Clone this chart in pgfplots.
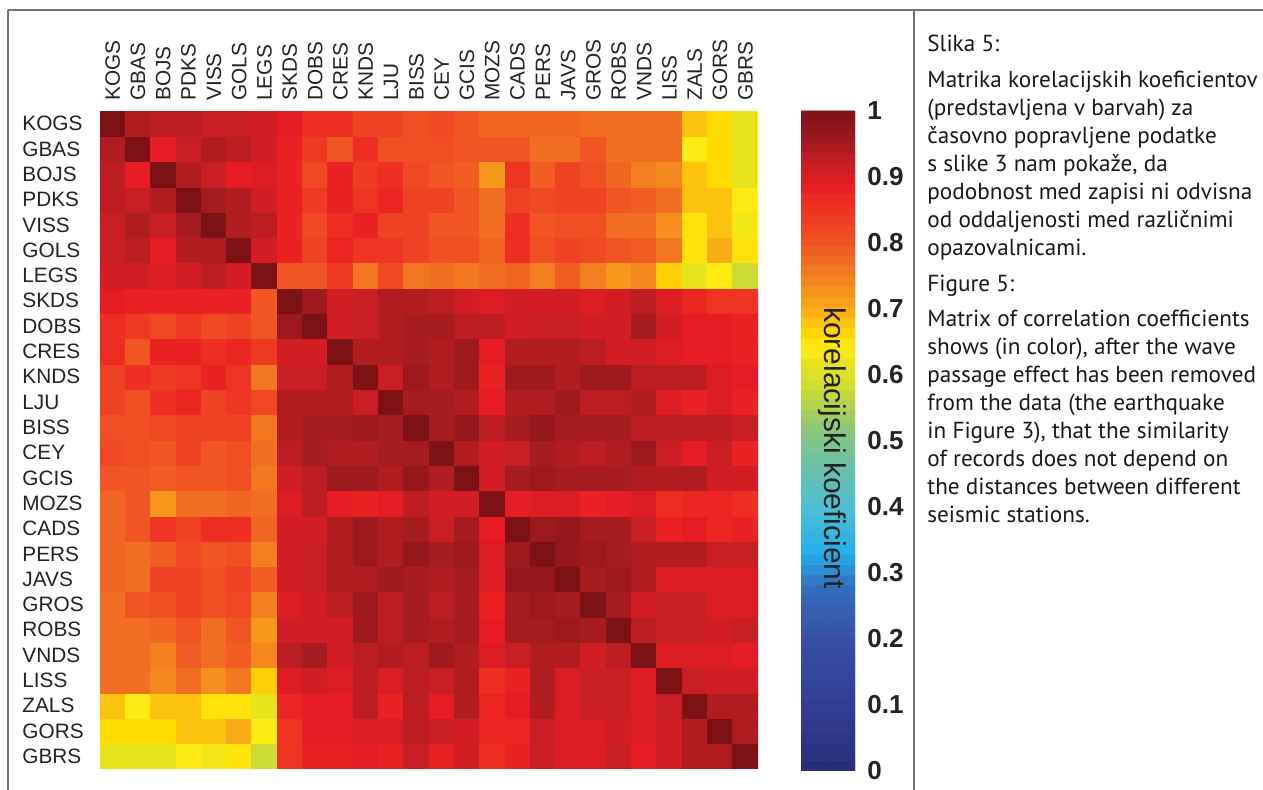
\documentclass[border=0pt]{standalone}
\usepackage{fontspec}
\usepackage{pgfplots}
\pgfplotsset{compat=1.18}
\setmainfont{Liberation Sans}
\newfontfamily\capfont{PT Sans}
\definecolor{framegray}{RGB}{115,115,115}
\definecolor{labgray}{RGB}{35,35,35}
\definecolor{captext}{RGB}{25,25,25}
\pgfplotsset{colormap={refjet}{
 rgb255(0pt)=(40,45,120) rgb255(10pt)=(50,62,148) rgb255(20pt)=(55,80,165)
 rgb255(28pt)=(52,110,190) rgb255(33pt)=(35,175,235) rgb255(40pt)=(80,190,210)
 rgb255(46pt)=(105,192,170) rgb255(52pt)=(140,200,120) rgb255(58pt)=(205,220,50)
 rgb255(62pt)=(232,228,28) rgb255(64pt)=(255,235,20) rgb255(66pt)=(255,220,0)
 rgb255(68pt)=(252,195,15) rgb255(71pt)=(248,160,28) rgb255(74pt)=(245,135,31)
 rgb255(77pt)=(242,110,34) rgb255(80pt)=(240,85,35) rgb255(83pt)=(239,65,35)
 rgb255(86pt)=(238,45,35) rgb255(89pt)=(232,28,36) rgb255(92pt)=(200,30,36)
 rgb255(95pt)=(165,27,32) rgb255(100pt)=(125,18,22)}}
\newcommand{\labfont}{\fontsize{10.4}{12}\selectfont}
\newcommand{\cfont}{\capfont\fontsize{11.6}{14}\selectfont}
\begin{document}
\begin{tikzpicture}
\useasboundingbox (0,0) rectangle (631.5pt,395pt);
\begin{axis}[
  at={(50pt,10.5pt)}, anchor=south west,
  scale only axis, width=329pt, height=329pt,
  xmin=-0.5, xmax=25.5, ymin=-0.5, ymax=25.5,
  axis line style={draw=none},
  major tick length=0pt,
  xtick={0,...,25}, ytick={0,...,25},
  xticklabels={KOGS,GBAS,BOJS,PDKS,VISS,GOLS,LEGS,SKDS,DOBS,CRES,KNDS,LJU,BISS,CEY,GCIS,MOZS,CADS,PERS,JAVS,GROS,ROBS,VNDS,LISS,ZALS,GORS,GBRS},
  yticklabels={GBRS,GORS,ZALS,LISS,VNDS,ROBS,GROS,JAVS,PERS,CADS,MOZS,GCIS,CEY,BISS,LJU,KNDS,CRES,DOBS,SKDS,LEGS,GOLS,VISS,PDKS,BOJS,GBAS,KOGS},
  xticklabel pos=upper,
  xticklabel style={rotate=90, anchor=west, inner sep=0pt, font=\labfont, text=labgray},
  yticklabel style={anchor=west, inner sep=0pt, font=\labfont, text=labgray},
  xticklabel shift=5pt,
  yticklabel shift=39pt,
  colormap name=refjet,
  point meta min=0, point meta max=1,
]
\addplot[matrix plot*, mesh/cols=26, point meta=explicit] coordinates {
(0,0)[0.62] (1,0)[0.62] (2,0)[0.62] (3,0)[0.64] (4,0)[0.63] (5,0)[0.65] (6,0)[0.58] (7,0)[0.85] (8,0)[0.88] (9,0)[0.88] (10,0)[0.89] (11,0)[0.88] (12,0)[0.92] (13,0)[0.88] (14,0)[0.91] (15,0)[0.86] (16,0)[0.88] (17,0)[0.92] (18,0)[0.90] (19,0)[0.90] (20,0)[0.92] (21,0)[0.89] (22,0)[0.91] (23,0)[0.94] (24,0)[0.94] (25,0)[1.00]
(0,1)[0.66] (1,1)[0.66] (2,1)[0.66] (3,1)[0.68] (4,1)[0.68] (5,1)[0.70] (6,1)[0.64] (7,1)[0.85] (8,1)[0.89] (9,1)[0.89] (10,1)[0.90] (11,1)[0.90] (12,1)[0.93] (13,1)[0.92] (14,1)[0.91] (15,1)[0.87] (16,1)[0.87] (17,1)[0.92] (18,1)[0.90] (19,1)[0.90] (20,1)[0.91] (21,1)[0.90] (22,1)[0.91] (23,1)[0.94] (24,1)[1.00] (25,1)[0.94]
(0,2)[0.68] (1,2)[0.64] (2,2)[0.68] (3,2)[0.68] (4,2)[0.65] (5,2)[0.65] (6,2)[0.62] (7,2)[0.87] (8,2)[0.89] (9,2)[0.89] (10,2)[0.93] (11,2)[0.88] (12,2)[0.93] (13,2)[0.89] (14,2)[0.94] (15,2)[0.87] (16,2)[0.89] (17,2)[0.94] (18,2)[0.90] (19,2)[0.92] (20,2)[0.92] (21,2)[0.90] (22,2)[0.92] (23,2)[1.00] (24,2)[0.94] (25,2)[0.94]
(0,3)[0.77] (1,3)[0.77] (2,3)[0.74] (3,3)[0.77] (4,3)[0.73] (5,3)[0.76] (6,3)[0.67] (7,3)[0.90] (8,3)[0.91] (9,3)[0.90] (10,3)[0.93] (11,3)[0.90] (12,3)[0.93] (13,3)[0.92] (14,3)[0.94] (15,3)[0.86] (16,3)[0.88] (17,3)[0.94] (18,3)[0.90] (19,3)[0.92] (20,3)[0.92] (21,3)[0.90] (22,3)[1.00] (23,3)[0.92] (24,3)[0.91] (25,3)[0.91]
(0,4)[0.77] (1,4)[0.77] (2,4)[0.75] (3,4)[0.79] (4,4)[0.77] (5,4)[0.79] (6,4)[0.74] (7,4)[0.93] (8,4)[0.95] (9,4)[0.91] (10,4)[0.93] (11,4)[0.94] (12,4)[0.93] (13,4)[0.96] (14,4)[0.94] (15,4)[0.90] (16,4)[0.92] (17,4)[0.94] (18,4)[0.94] (19,4)[0.91] (20,4)[0.93] (21,4)[1.00] (22,4)[0.90] (23,4)[0.90] (24,4)[0.90] (25,4)[0.89]
(0,5)[0.77] (1,5)[0.77] (2,5)[0.78] (3,5)[0.80] (4,5)[0.77] (5,5)[0.80] (6,5)[0.72] (7,5)[0.91] (8,5)[0.91] (9,5)[0.91] (10,5)[0.96] (11,5)[0.93] (12,5)[0.95] (13,5)[0.94] (14,5)[0.95] (15,5)[0.89] (16,5)[0.95] (17,5)[0.95] (18,5)[0.96] (19,5)[0.95] (20,5)[1.00] (21,5)[0.93] (22,5)[0.92] (23,5)[0.92] (24,5)[0.91] (25,5)[0.92]
(0,6)[0.77] (1,6)[0.80] (2,6)[0.81] (3,6)[0.83] (4,6)[0.81] (5,6)[0.82] (6,6)[0.75] (7,6)[0.90] (8,6)[0.91] (9,6)[0.93] (10,6)[0.96] (11,6)[0.93] (12,6)[0.95] (13,6)[0.93] (14,6)[0.95] (15,6)[0.88] (16,6)[0.95] (17,6)[0.96] (18,6)[0.95] (19,6)[1.00] (20,6)[0.95] (21,6)[0.91] (22,6)[0.92] (23,6)[0.92] (24,6)[0.90] (25,6)[0.90]
(0,7)[0.78] (1,7)[0.77] (2,7)[0.83] (3,7)[0.83] (4,7)[0.81] (5,7)[0.83] (6,7)[0.79] (7,7)[0.91] (8,7)[0.92] (9,7)[0.94] (10,7)[0.94] (11,7)[0.96] (12,7)[0.95] (13,7)[0.94] (14,7)[0.95] (15,7)[0.90] (16,7)[0.97] (17,7)[0.97] (18,7)[1.00] (19,7)[0.95] (20,7)[0.96] (21,7)[0.94] (22,7)[0.90] (23,7)[0.90] (24,7)[0.90] (25,7)[0.90]
(0,8)[0.78] (1,8)[0.77] (2,8)[0.79] (3,8)[0.82] (4,8)[0.80] (5,8)[0.81] (6,8)[0.75] (7,8)[0.91] (8,8)[0.92] (9,8)[0.94] (10,8)[0.96] (11,8)[0.94] (12,8)[0.97] (13,8)[0.95] (14,8)[0.96] (15,8)[0.90] (16,8)[0.96] (17,8)[1.00] (18,8)[0.97] (19,8)[0.96] (20,8)[0.95] (21,8)[0.94] (22,8)[0.94] (23,8)[0.94] (24,8)[0.92] (25,8)[0.92]
(0,9)[0.78] (1,9)[0.80] (2,9)[0.85] (3,9)[0.83] (4,9)[0.86] (5,9)[0.86] (6,9)[0.78] (7,9)[0.91] (8,9)[0.91] (9,9)[0.94] (10,9)[0.96] (11,9)[0.94] (12,9)[0.95] (13,9)[0.92] (14,9)[0.95] (15,9)[0.89] (16,9)[1.00] (17,9)[0.96] (18,9)[0.97] (19,9)[0.95] (20,9)[0.95] (21,9)[0.92] (22,9)[0.88] (23,9)[0.89] (24,9)[0.87] (25,9)[0.88]
(0,10)[0.78] (1,10)[0.80] (2,10)[0.72] (3,10)[0.77] (4,10)[0.77] (5,10)[0.78] (6,10)[0.77] (7,10)[0.90] (8,10)[0.93] (9,10)[0.89] (10,10)[0.88] (11,10)[0.89] (12,10)[0.93] (13,10)[0.91] (14,10)[0.91] (15,10)[1.00] (16,10)[0.89] (17,10)[0.90] (18,10)[0.90] (19,10)[0.88] (20,10)[0.89] (21,10)[0.90] (22,10)[0.86] (23,10)[0.87] (24,10)[0.87] (25,10)[0.86]
(0,11)[0.80] (1,11)[0.80] (2,11)[0.79] (3,11)[0.80] (4,11)[0.80] (5,11)[0.81] (6,11)[0.76] (7,11)[0.91] (8,11)[0.93] (9,11)[0.96] (10,11)[0.96] (11,11)[0.94] (12,11)[0.97] (13,11)[0.94] (14,11)[1.00] (15,11)[0.91] (16,11)[0.95] (17,11)[0.96] (18,11)[0.95] (19,11)[0.95] (20,11)[0.95] (21,11)[0.94] (22,11)[0.94] (23,11)[0.94] (24,11)[0.91] (25,11)[0.91]
(0,12)[0.82] (1,12)[0.81] (2,12)[0.80] (3,12)[0.83] (4,12)[0.80] (5,12)[0.81] (6,12)[0.77] (7,12)[0.93] (8,12)[0.95] (9,12)[0.94] (10,12)[0.94] (11,12)[0.95] (12,12)[0.95] (13,12)[1.00] (14,12)[0.94] (15,12)[0.91] (16,12)[0.92] (17,12)[0.95] (18,12)[0.94] (19,12)[0.93] (20,12)[0.94] (21,12)[0.96] (22,12)[0.92] (23,12)[0.89] (24,12)[0.92] (25,12)[0.88]
(0,13)[0.81] (1,13)[0.81] (2,13)[0.82] (3,13)[0.83] (4,13)[0.83] (5,13)[0.83] (6,13)[0.76] (7,13)[0.94] (8,13)[0.95] (9,13)[0.95] (10,13)[0.96] (11,13)[0.95] (12,13)[1.00] (13,13)[0.95] (14,13)[0.97] (15,13)[0.93] (16,13)[0.95] (17,13)[0.97] (18,13)[0.95] (19,13)[0.95] (20,13)[0.95] (21,13)[0.93] (22,13)[0.93] (23,13)[0.93] (24,13)[0.93] (25,13)[0.92]
(0,14)[0.83] (1,14)[0.81] (2,14)[0.86] (3,14)[0.87] (4,14)[0.83] (5,14)[0.85] (6,14)[0.82] (7,14)[0.94] (8,14)[0.94] (9,14)[0.94] (10,14)[0.92] (11,14)[1.00] (12,14)[0.95] (13,14)[0.95] (14,14)[0.94] (15,14)[0.89] (16,14)[0.94] (17,14)[0.94] (18,14)[0.96] (19,14)[0.93] (20,14)[0.93] (21,14)[0.94] (22,14)[0.90] (23,14)[0.88] (24,14)[0.90] (25,14)[0.88]
(0,15)[0.83] (1,15)[0.86] (2,15)[0.84] (3,15)[0.85] (4,15)[0.88] (5,15)[0.85] (6,15)[0.76] (7,15)[0.92] (8,15)[0.92] (9,15)[0.94] (10,15)[1.00] (11,15)[0.92] (12,15)[0.96] (13,15)[0.94] (14,15)[0.96] (15,15)[0.88] (16,15)[0.96] (17,15)[0.96] (18,15)[0.94] (19,15)[0.96] (20,15)[0.96] (21,15)[0.93] (22,15)[0.93] (23,15)[0.93] (24,15)[0.90] (25,15)[0.89]
(0,16)[0.86] (1,16)[0.80] (2,16)[0.88] (3,16)[0.88] (4,16)[0.86] (5,16)[0.87] (6,16)[0.84] (7,16)[0.91] (8,16)[0.91] (9,16)[1.00] (10,16)[0.94] (11,16)[0.94] (12,16)[0.95] (13,16)[0.94] (14,16)[0.96] (15,16)[0.89] (16,16)[0.94] (17,16)[0.94] (18,16)[0.94] (19,16)[0.93] (20,16)[0.91] (21,16)[0.91] (22,16)[0.90] (23,16)[0.89] (24,16)[0.89] (25,16)[0.88]
(0,17)[0.86] (1,17)[0.84] (2,17)[0.82] (3,17)[0.84] (4,17)[0.82] (5,17)[0.83] (6,17)[0.80] (7,17)[0.96] (8,17)[1.00] (9,17)[0.91] (10,17)[0.92] (11,17)[0.94] (12,17)[0.95] (13,17)[0.95] (14,17)[0.93] (15,17)[0.93] (16,17)[0.91] (17,17)[0.92] (18,17)[0.92] (19,17)[0.91] (20,17)[0.91] (21,17)[0.95] (22,17)[0.91] (23,17)[0.89] (24,17)[0.89] (25,17)[0.88]
(0,18)[0.89] (1,18)[0.88] (2,18)[0.88] (3,18)[0.88] (4,18)[0.88] (5,18)[0.88] (6,18)[0.80] (7,18)[1.00] (8,18)[0.96] (9,18)[0.91] (10,18)[0.92] (11,18)[0.94] (12,18)[0.94] (13,18)[0.93] (14,18)[0.91] (15,18)[0.90] (16,18)[0.91] (17,18)[0.91] (18,18)[0.91] (19,18)[0.90] (20,18)[0.91] (21,18)[0.93] (22,18)[0.90] (23,18)[0.87] (24,18)[0.85] (25,18)[0.85]
(0,19)[0.91] (1,19)[0.91] (2,19)[0.90] (3,19)[0.91] (4,19)[0.93] (5,19)[0.91] (6,19)[1.00] (7,19)[0.80] (8,19)[0.80] (9,19)[0.84] (10,19)[0.76] (11,19)[0.82] (12,19)[0.76] (13,19)[0.77] (14,19)[0.76] (15,19)[0.77] (16,19)[0.78] (17,19)[0.75] (18,19)[0.79] (19,19)[0.75] (20,19)[0.72] (21,19)[0.74] (22,19)[0.67] (23,19)[0.62] (24,19)[0.64] (25,19)[0.58]
(0,20)[0.92] (1,20)[0.93] (2,20)[0.89] (3,20)[0.94] (4,20)[0.94] (5,20)[1.00] (6,20)[0.91] (7,20)[0.88] (8,20)[0.83] (9,20)[0.87] (10,20)[0.85] (11,20)[0.85] (12,20)[0.83] (13,20)[0.81] (14,20)[0.81] (15,20)[0.78] (16,20)[0.86] (17,20)[0.81] (18,20)[0.83] (19,20)[0.82] (20,20)[0.80] (21,20)[0.79] (22,20)[0.76] (23,20)[0.65] (24,20)[0.70] (25,20)[0.65]
(0,21)[0.92] (1,21)[0.94] (2,21)[0.92] (3,21)[0.95] (4,21)[1.00] (5,21)[0.94] (6,21)[0.93] (7,21)[0.88] (8,21)[0.82] (9,21)[0.86] (10,21)[0.88] (11,21)[0.83] (12,21)[0.83] (13,21)[0.80] (14,21)[0.80] (15,21)[0.77] (16,21)[0.86] (17,21)[0.80] (18,21)[0.81] (19,21)[0.81] (20,21)[0.77] (21,21)[0.77] (22,21)[0.73] (23,21)[0.65] (24,21)[0.68] (25,21)[0.63]
(0,22)[0.93] (1,22)[0.92] (2,22)[0.94] (3,22)[1.00] (4,22)[0.95] (5,22)[0.94] (6,22)[0.91] (7,22)[0.88] (8,22)[0.84] (9,22)[0.88] (10,22)[0.85] (11,22)[0.87] (12,22)[0.83] (13,22)[0.83] (14,22)[0.80] (15,22)[0.77] (16,22)[0.83] (17,22)[0.82] (18,22)[0.83] (19,22)[0.83] (20,22)[0.80] (21,22)[0.79] (22,22)[0.77] (23,22)[0.68] (24,22)[0.68] (25,22)[0.64]
(0,23)[0.93] (1,23)[0.89] (2,23)[1.00] (3,23)[0.94] (4,23)[0.92] (5,23)[0.89] (6,23)[0.90] (7,23)[0.88] (8,23)[0.82] (9,23)[0.88] (10,23)[0.84] (11,23)[0.86] (12,23)[0.82] (13,23)[0.80] (14,23)[0.79] (15,23)[0.72] (16,23)[0.85] (17,23)[0.79] (18,23)[0.83] (19,23)[0.81] (20,23)[0.78] (21,23)[0.75] (22,23)[0.74] (23,23)[0.68] (24,23)[0.66] (25,23)[0.62]
(0,24)[0.94] (1,24)[1.00] (2,24)[0.89] (3,24)[0.92] (4,24)[0.94] (5,24)[0.93] (6,24)[0.91] (7,24)[0.88] (8,24)[0.84] (9,24)[0.80] (10,24)[0.86] (11,24)[0.81] (12,24)[0.81] (13,24)[0.81] (14,24)[0.80] (15,24)[0.80] (16,24)[0.80] (17,24)[0.77] (18,24)[0.77] (19,24)[0.80] (20,24)[0.77] (21,24)[0.77] (22,24)[0.77] (23,24)[0.64] (24,24)[0.66] (25,24)[0.62]
(0,25)[1.00] (1,25)[0.94] (2,25)[0.93] (3,25)[0.93] (4,25)[0.92] (5,25)[0.92] (6,25)[0.91] (7,25)[0.89] (8,25)[0.86] (9,25)[0.86] (10,25)[0.83] (11,25)[0.83] (12,25)[0.81] (13,25)[0.82] (14,25)[0.80] (15,25)[0.78] (16,25)[0.78] (17,25)[0.78] (18,25)[0.78] (19,25)[0.77] (20,25)[0.77] (21,25)[0.77] (22,25)[0.77] (23,25)[0.68] (24,25)[0.66] (25,25)[0.62]
};
\end{axis}
% colour bar
\begin{axis}[
  at={(400.5pt,9.5pt)}, anchor=south west,
  scale only axis, width=27pt, height=330pt,
  xmin=0, xmax=1, ymin=0, ymax=1,
  axis line style={draw=none},
  major tick length=0pt,
  xtick=\empty,
  ytick={0,0.1,0.2,0.3,0.4,0.5,0.6,0.7,0.8,0.9,1},
  yticklabels={0,0.1,0.2,0.3,0.4,0.5,0.6,0.7,0.8,0.9,1},
  yticklabel pos=right,
  yticklabel style={font=\bfseries\fontsize{13}{15}\selectfont, text=labgray, anchor=west, inner sep=0pt},
  yticklabel shift=6pt,
  colormap name=refjet,
  point meta min=0, point meta max=1,
]
\addplot[matrix plot*, mesh/cols=2, point meta=y] coordinates {
(0.25,0.0078125) (0.75,0.0078125)
(0.25,0.0234375) (0.75,0.0234375)
(0.25,0.0390625) (0.75,0.0390625)
(0.25,0.0546875) (0.75,0.0546875)
(0.25,0.0703125) (0.75,0.0703125)
(0.25,0.0859375) (0.75,0.0859375)
(0.25,0.1015625) (0.75,0.1015625)
(0.25,0.1171875) (0.75,0.1171875)
(0.25,0.1328125) (0.75,0.1328125)
(0.25,0.1484375) (0.75,0.1484375)
(0.25,0.1640625) (0.75,0.1640625)
(0.25,0.1796875) (0.75,0.1796875)
(0.25,0.1953125) (0.75,0.1953125)
(0.25,0.2109375) (0.75,0.2109375)
(0.25,0.2265625) (0.75,0.2265625)
(0.25,0.2421875) (0.75,0.2421875)
(0.25,0.2578125) (0.75,0.2578125)
(0.25,0.2734375) (0.75,0.2734375)
(0.25,0.2890625) (0.75,0.2890625)
(0.25,0.3046875) (0.75,0.3046875)
(0.25,0.3203125) (0.75,0.3203125)
(0.25,0.3359375) (0.75,0.3359375)
(0.25,0.3515625) (0.75,0.3515625)
(0.25,0.3671875) (0.75,0.3671875)
(0.25,0.3828125) (0.75,0.3828125)
(0.25,0.3984375) (0.75,0.3984375)
(0.25,0.4140625) (0.75,0.4140625)
(0.25,0.4296875) (0.75,0.4296875)
(0.25,0.4453125) (0.75,0.4453125)
(0.25,0.4609375) (0.75,0.4609375)
(0.25,0.4765625) (0.75,0.4765625)
(0.25,0.4921875) (0.75,0.4921875)
(0.25,0.5078125) (0.75,0.5078125)
(0.25,0.5234375) (0.75,0.5234375)
(0.25,0.5390625) (0.75,0.5390625)
(0.25,0.5546875) (0.75,0.5546875)
(0.25,0.5703125) (0.75,0.5703125)
(0.25,0.5859375) (0.75,0.5859375)
(0.25,0.6015625) (0.75,0.6015625)
(0.25,0.6171875) (0.75,0.6171875)
(0.25,0.6328125) (0.75,0.6328125)
(0.25,0.6484375) (0.75,0.6484375)
(0.25,0.6640625) (0.75,0.6640625)
(0.25,0.6796875) (0.75,0.6796875)
(0.25,0.6953125) (0.75,0.6953125)
(0.25,0.7109375) (0.75,0.7109375)
(0.25,0.7265625) (0.75,0.7265625)
(0.25,0.7421875) (0.75,0.7421875)
(0.25,0.7578125) (0.75,0.7578125)
(0.25,0.7734375) (0.75,0.7734375)
(0.25,0.7890625) (0.75,0.7890625)
(0.25,0.8046875) (0.75,0.8046875)
(0.25,0.8203125) (0.75,0.8203125)
(0.25,0.8359375) (0.75,0.8359375)
(0.25,0.8515625) (0.75,0.8515625)
(0.25,0.8671875) (0.75,0.8671875)
(0.25,0.8828125) (0.75,0.8828125)
(0.25,0.8984375) (0.75,0.8984375)
(0.25,0.9140625) (0.75,0.9140625)
(0.25,0.9296875) (0.75,0.9296875)
(0.25,0.9453125) (0.75,0.9453125)
(0.25,0.9609375) (0.75,0.9609375)
(0.25,0.9765625) (0.75,0.9765625)
(0.25,0.9921875) (0.75,0.9921875)
};
\end{axis}
\node[rotate=-90, font=\fontsize{15}{17}\selectfont, text=labgray] at (416pt,171pt) {korelacijski koeficient};
% frame
\draw[framegray, line width=1pt] (4pt,390pt) -- (631.5pt,390pt);
\draw[framegray, line width=0.6pt] (4pt,390pt) -- (4pt,0pt);
\draw[framegray, line width=0.6pt] (457pt,390pt) -- (457pt,0pt);
% caption
\begin{scope}[every node/.style={anchor=base west, inner sep=0pt, font=\cfont, text=captext}]
\node at (463.5pt,369pt) {Slika 5:};
\node at (463.5pt,351pt) {Matrika korelacijskih koeficientov};
\node at (463.5pt,337pt) {(predstavljena v barvah) za};
\node at (463.5pt,323pt) {časovno popravljene podatke};
\node at (463.5pt,309pt) {s slike 3 nam pokaže, da};
\node at (463.5pt,295pt) {podobnost med zapisi ni odvisna};
\node at (463.5pt,281pt) {od oddaljenosti med različnimi};
\node at (463.5pt,267pt) {opazovalnicami.};
\node at (463.5pt,249pt) {Figure 5:};
\node at (463.5pt,231.5pt) {Matrix of correlation coefficients};
\node at (463.5pt,217.5pt) {shows (in color), after the wave};
\node at (463.5pt,203.5pt) {passage effect has been removed};
\node at (463.5pt,189.5pt) {from the data (the earthquake};
\node at (463.5pt,175.5pt) {in Figure 3), that the similarity};
\node at (463.5pt,161.5pt) {of records does not depend on};
\node at (463.5pt,147.5pt) {the distances between different};
\node at (463.5pt,133.5pt) {seismic stations.};
\end{scope}
\end{tikzpicture}
\end{document}
